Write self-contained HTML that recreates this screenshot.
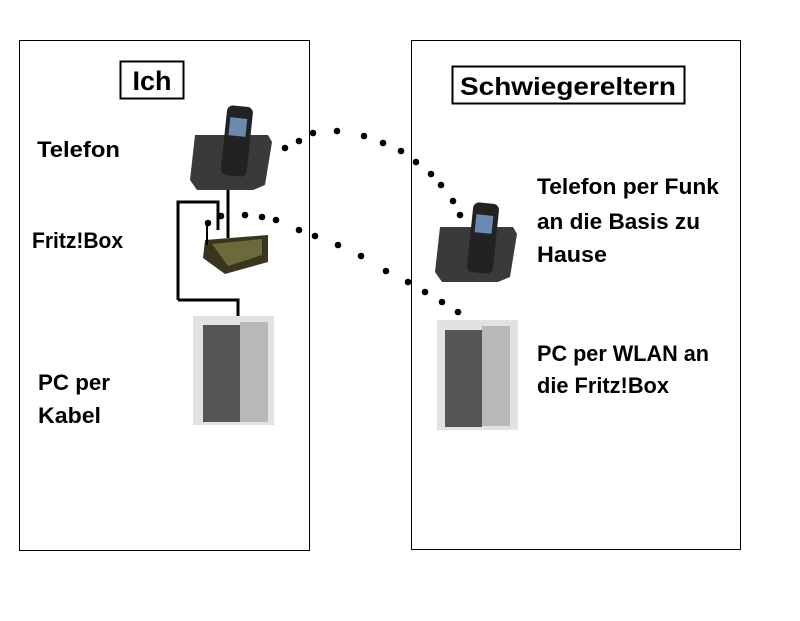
<!DOCTYPE html>
<html><head><meta charset="utf-8"><style>
body{margin:0;background:#fff;}
svg text{font-family:"Liberation Sans",sans-serif;font-weight:bold;}
</style></head><body>
<svg width="800" height="616" viewBox="0 0 800 616" xmlns="http://www.w3.org/2000/svg">
<rect x="19.5" y="40.5" width="290" height="510" fill="none" stroke="#000"/>
<rect x="411.5" y="40.5" width="329" height="509" fill="none" stroke="#000"/>
<rect x="120.5" y="61.5" width="63" height="37" fill="#fff" stroke="#000" stroke-width="2"/>
<text x="152" y="90" font-size="27" text-anchor="middle">Ich</text>
<rect x="452.5" y="66.5" width="232" height="37" fill="#fff" stroke="#000" stroke-width="2"/>
<text x="568" y="95" font-size="25" text-anchor="middle" textLength="216" lengthAdjust="spacingAndGlyphs">Schwiegereltern</text>
<g font-size="22">
<text x="37" y="157" textLength="83" lengthAdjust="spacingAndGlyphs">Telefon</text>
<text x="32" y="248" textLength="91" lengthAdjust="spacingAndGlyphs">Fritz!Box</text>
<text x="38" y="390" textLength="72" lengthAdjust="spacingAndGlyphs">PC per</text>
<text x="38" y="423" textLength="63" lengthAdjust="spacingAndGlyphs">Kabel</text>
<text x="537" y="194" textLength="182" lengthAdjust="spacingAndGlyphs">Telefon per Funk</text>
<text x="537" y="229" textLength="163" lengthAdjust="spacingAndGlyphs">an die Basis zu</text>
<text x="537" y="262" textLength="70" lengthAdjust="spacingAndGlyphs">Hause</text>
<text x="537" y="361" textLength="172" lengthAdjust="spacingAndGlyphs">PC per WLAN an</text>
<text x="537" y="393" textLength="132" lengthAdjust="spacingAndGlyphs">die Fritz!Box</text>
</g>
<polyline points="178,300 178,202 218,202 218,230" fill="none" stroke="#000" stroke-width="3"/>
<line x1="228" y1="188" x2="228" y2="238" stroke="#000" stroke-width="3"/>
<polyline points="178,300 238,300 238,316" fill="none" stroke="#000" stroke-width="3"/>
<path d="M195 135 L268 135 L272 142 L265 185 L253 190 L197 190 L190 180 Z" fill="#3a3a3c"/>
<rect x="224" y="106" width="26" height="70" rx="6" fill="#222" transform="rotate(6 237 140)"/>
<rect x="228" y="118" width="17" height="18" fill="#6a8ab0" transform="rotate(6 237 140)"/>
<path d="M205 240 L268 235 L268 262 L225 274 L203 258 Z" fill="#3b3520"/>
<path d="M212 244 L262 239 L262 255 L228 266 Z" fill="#6b6a3a"/>
<line x1="207" y1="222" x2="207" y2="245" stroke="#000" stroke-width="2"/>
<rect x="193" y="316" width="81" height="109" fill="#e2e2e2"/>
<rect x="203" y="325" width="37" height="97" fill="#555"/>
<rect x="240" y="322" width="28" height="100" fill="#b8b8b8"/>
<path d="M440 227 L513 227 L517 234 L510 277 L498 282 L442 282 L435 272 Z" fill="#3a3a3c"/>
<rect x="470" y="203" width="26" height="70" rx="6" fill="#222" transform="rotate(6 483 238)"/>
<rect x="474" y="215" width="17" height="18" fill="#6a8ab0" transform="rotate(6 483 238)"/>
<rect x="437" y="320" width="81" height="110" fill="#e2e2e2"/>
<rect x="445" y="330" width="37" height="97" fill="#555"/>
<rect x="482" y="326" width="28" height="100" fill="#b8b8b8"/>
<g fill="#000">
<circle cx="285" cy="148" r="3.3"/><circle cx="299" cy="141" r="3.3"/><circle cx="313" cy="133" r="3.3"/>
<circle cx="337" cy="131" r="3.3"/><circle cx="364" cy="136" r="3.3"/><circle cx="383" cy="143" r="3.3"/>
<circle cx="401" cy="151" r="3.3"/><circle cx="416" cy="162" r="3.3"/><circle cx="431" cy="174" r="3.3"/>
<circle cx="441" cy="185" r="3.3"/><circle cx="453" cy="201" r="3.3"/><circle cx="460" cy="215" r="3.3"/>
<circle cx="208" cy="223" r="3.3"/><circle cx="221" cy="216" r="3.3"/><circle cx="245" cy="215" r="3.3"/>
<circle cx="262" cy="217" r="3.3"/><circle cx="276" cy="220" r="3.3"/><circle cx="299" cy="230" r="3.3"/>
<circle cx="315" cy="236" r="3.3"/><circle cx="338" cy="245" r="3.3"/><circle cx="361" cy="256" r="3.3"/>
<circle cx="386" cy="271" r="3.3"/><circle cx="408" cy="282" r="3.3"/><circle cx="425" cy="292" r="3.3"/>
<circle cx="442" cy="302" r="3.3"/><circle cx="458" cy="312" r="3.3"/>
</g>
</svg>
</body></html>
